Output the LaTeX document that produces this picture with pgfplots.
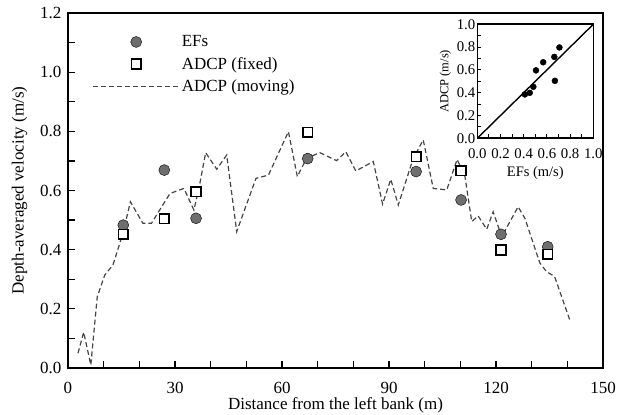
\documentclass[border=0pt]{standalone}
\usepackage{fontspec}
\setmainfont{Liberation Serif}
\usepackage{pgfplots}
\pgfplotsset{compat=1.18}

\definecolor{efgray}{HTML}{6E6E6E}
\definecolor{linegray}{HTML}{454545}

% Depth-averaged velocity across the section
\pgfplotstableread{
x     v
2.8   0.050
4.4   0.121
6.4   0.010
8.2   0.241
10.3  0.314
12.6  0.348
15.4  0.455
17.5  0.562
21.0  0.489
23.4  0.489
25.7  0.534
28.6  0.590
32.5  0.607
35.3  0.534
36.8  0.613
38.6  0.728
41.7  0.672
44.5  0.720
47.3  0.461
52.7  0.641
56.2  0.652
61.8  0.799
64.3  0.647
66.9  0.709
70.6  0.728
75.3  0.701
77.9  0.731
80.7  0.666
85.6  0.698
88.2  0.554
90.5  0.638
92.6  0.551
96.8  0.709
99.6  0.771
102.4 0.607
106.2 0.602
109.1 0.705
111.3 0.647
113.2 0.495
115.0 0.514
117.4 0.469
119.2 0.528
121.6 0.444
126.2 0.545
128.1 0.506
132.3 0.355
134.2 0.325
136.4 0.310
140.7 0.162
}\moving

\pgfplotstableread{
x     ef     fixed
15.5  0.483  0.452
27.0  0.669  0.504
35.9  0.506  0.596
67.2  0.708  0.797
97.6  0.664  0.714
110.2 0.568  0.667
121.4 0.452  0.399
134.5 0.410  0.385
}\points

\begin{document}
\begin{tikzpicture}
\path[use as bounding box] (-68bp,-47bp) rectangle (555bp,368bp);
\begin{axis}[
  at={(0,0)}, anchor=south west,
  scale only axis, width=535bp, height=355bp,
  xmin=0, xmax=150, ymin=0, ymax=1.2,
  xtick={0,30,60,90,120,150}, minor x tick num=2,
  ytick={0,0.2,0.4,0.6,0.8,1.0,1.2}, minor y tick num=1,
  tick align=inside, tick pos=left,
  major tick length=7bp, minor tick length=7bp,
  every tick/.style={black, line width=1.2bp},
  axis line style={line width=1.6bp},
  yticklabel style={/pgf/number format/fixed, /pgf/number format/fixed zerofill,
    /pgf/number format/precision=1, /tikz/xshift=-3bp},
  xticklabel style={/tikz/yshift=-11bp},
  /pgf/number format/assume math mode=true,
  tick label style={font=\fontsize{17bp}{20bp}\selectfont},
  label style={font=\fontsize{17bp}{20bp}\selectfont},
  xlabel={Distance from the left bank (m)},
  ylabel={Depth-averaged velocity (m/s)},
  xlabel style={yshift=3bp},
  ylabel style={yshift=6bp},
  legend style={draw=none, fill=none, at={(axis description cs:0.04,0.948)}, anchor=north west,
    font=\fontsize{17bp}{20bp}\selectfont, row sep=5bp},
  legend cell align=left,
]
\addlegendimage{legend image code/.code={%
  \path[draw=none, fill=none] (0bp,0bp) -- (86bp,0bp);
  \path[draw=none, fill=none] plot[only marks, mark=*, mark size=5.5bp, mark options={draw=none, fill=efgray}] coordinates {(43bp,0bp)};}}
\addlegendentry{EFs}
\addlegendimage{legend image code/.code={%
  \path[draw=none, fill=none] (0bp,0bp) -- (86bp,0bp);
  \path[draw=none, fill=none] plot[only marks, mark=square*, mark size=4.8bp, mark options={draw=black, fill=white, line width=1.5bp}] coordinates {(43bp,0bp)};}}
\addlegendentry{ADCP (fixed)}
\addlegendimage{legend image code/.code={%
  \draw[linegray, line width=1.2bp, dash pattern=on 5bp off 3bp] (0bp,0bp) -- (86bp,0bp);}}
\addlegendentry{ADCP (moving)}

\addplot[forget plot, linegray, line width=1.2bp, dash pattern=on 5bp off 3bp] table[x=x, y=v] {\moving};
\addplot[forget plot, only marks, mark=*, mark size=5.5bp, mark options={draw=none, fill=efgray}] table[x=x, y=ef] {\points};
\addplot[forget plot, only marks, mark=square*, mark size=4.8bp, mark options={draw=black, fill=white, line width=1.5bp}] table[x=x, y=fixed] {\points};
\end{axis}

% Inset: ADCP (fixed) against EFs
\begin{axis}[
  at={(409.3bp,229.7bp)}, anchor=south west,
  scale only axis, width=116bp, height=114bp,
  xmin=0, xmax=1, ymin=0, ymax=1,
  xtick={0,0.2,0.4,0.6,0.8,1.0}, ytick={0,0.2,0.4,0.6,0.8,1.0},
  minor x tick num=1, minor y tick num=1,
  tick align=inside, tick pos=left,
  major tick length=4bp, minor tick length=4bp,
  every tick/.style={black, line width=1bp},
  axis line style={line width=1.6bp},
  axis background/.style={fill=white},
  /pgf/number format/fixed, /pgf/number format/fixed zerofill,
  /pgf/number format/precision=1,
  /pgf/number format/assume math mode=true,
  tick label style={font=\fontsize{14.8bp}{16bp}\selectfont},
  xticklabel style={/tikz/yshift=-7bp},
  yticklabel style={/tikz/xshift=1.5bp},
  xlabel={EFs (m/s)}, ylabel={ADCP (m/s)},
  xlabel style={font=\fontsize{14.5bp}{16bp}\selectfont, yshift=-1bp},
  ylabel style={font=\fontsize{12.5bp}{14bp}\selectfont, yshift=-1bp},
]
\addplot[black, line width=1.4bp] coordinates {(0,0) (1,1)};
\addplot[only marks, mark=*, mark size=3bp, black] table[x=ef, y=fixed] {\points};
\end{axis}
\end{tikzpicture}
\end{document}
